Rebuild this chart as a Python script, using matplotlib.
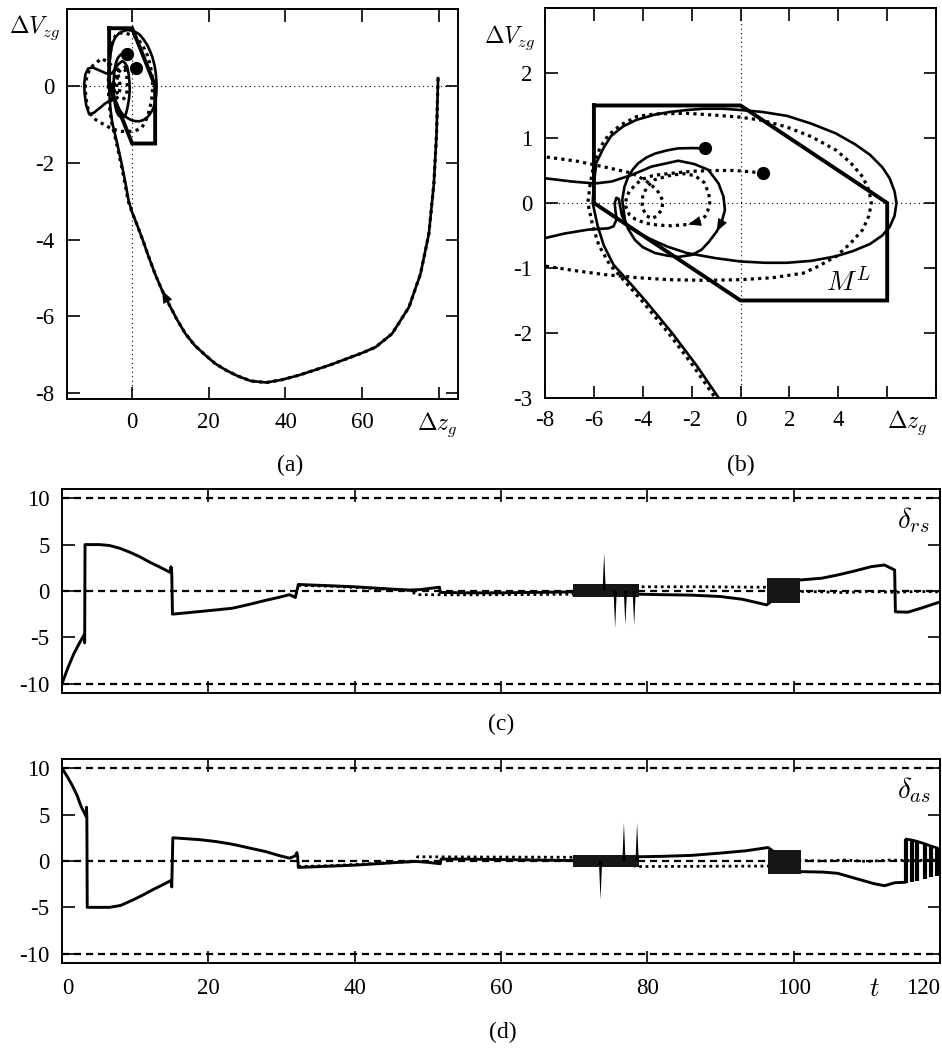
import numpy as np
import matplotlib
matplotlib.use("Agg")
import matplotlib.pyplot as plt

plt.rcParams['font.family'] = ['Liberation Serif', 'DejaVu Serif']
plt.rcParams['mathtext.fontset'] = 'cm'
plt.rcParams['axes.unicode_minus'] = False

# ---------------- phase plane data, panels (a) and (b) ----------------
# common piece of both runs: from dz=80 down through the dip, back to the origin
APPROACH_Z = [79.8, 79.6, 79.4, 78.7, 77.4, 75.2, 72.2, 67.8, 63.5, 60.0,
              56.0, 52.0, 47.5, 43.5, 39.0, 35.0, 31.0, 27.5, 24.5, 21.7,
              19.0, 16.3, 13.9, 11.8, 9.7, 7.8, 6.0, 4.35, 2.8, 1.3,
              -0.05]
APPROACH_V = [0.2, -0.5, -1.26, -2.55, -3.85, -4.9, -5.76, -6.45, -6.8, -6.95,
              -7.1, -7.25, -7.4, -7.53, -7.65, -7.72, -7.68, -7.55, -7.4, -7.23,
              -7.0, -6.75, -6.45, -6.1, -5.7, -5.32, -4.9, -4.46, -4.02, -3.62,
              -3.28]

# solid run, rest of the path (ends at the filled dot)
SOLID_Z = [-0.91, -1.8, -2.8, -3.9, -4.6, -5.2, -5.6, -5.85, -6.05, -6.0,
           -5.9, -5.6, -5.3, -4.8, -4.25, -3.5, -2.9, -2.2, -1.5, -0.7,
           0.0, 0.9, 1.9, 2.9, 3.9, 4.7, 5.3, 5.8, 6.1, 6.3,
           6.38, 6.3, 6.1, 5.8, 5.3, 4.6, 3.9, 2.9, 1.9, 1.0,
           0.0, -1.0, -2.2, -3.0, -3.6, -4.2, -4.66, -4.85, -4.93, -4.98,
           -5.08, -5.15, -5.12, -5.07, -5.2, -5.41, -6.23, -7.2, -8.0, -9.0,
           -10.0, -11.2, -12.0, -12.4, -12.5, -12.2, -11.5, -10.3, -9.2, -8.0,
           -6.9, -5.96, -5.28, -4.46, -3.64, -2.55, -1.9, -1.32, -0.9, -0.7,
           -0.64, -0.78, -0.98, -1.3, -1.6, -2.0, -2.55, -3.0, -3.5, -4.0,
           -4.32, -4.6, -4.73, -4.84, -4.75, -4.6, -4.4, -4.19, -3.85, -3.5,
           -3.0, -2.55, -2.0, -1.46]
SOLID_V = [-2.99, -2.5, -2.0, -1.5, -1.2, -0.95, -0.65, -0.35, 0.0, 0.3,
           0.62, 0.85, 1.03, 1.18, 1.28, 1.36, 1.40, 1.43, 1.45, 1.45,
           1.43, 1.40, 1.34, 1.22, 1.07, 0.90, 0.74, 0.55, 0.38, 0.18,
           0.0, -0.2, -0.37, -0.5, -0.63, -0.74, -0.82, -0.89, -0.92, -0.92,
           -0.9, -0.85, -0.77, -0.67, -0.57, -0.46, -0.34, -0.2, -0.05, 0.06,
           0.08, 0.0, -0.12, -0.25, -0.36, -0.39, -0.41, -0.47, -0.54, -0.62,
           -0.7, -0.74, -0.5, -0.2, 0.05, 0.3, 0.45, 0.48, 0.43, 0.38,
           0.33, 0.30, 0.33, 0.43, 0.56, 0.65, 0.6, 0.51, 0.3, 0.1,
           -0.11, -0.3, -0.44, -0.6, -0.72, -0.8, -0.83, -0.81, -0.77, -0.68,
           -0.57, -0.4, -0.26, 0.05, 0.25, 0.4, 0.52, 0.61, 0.7, 0.76,
           0.81, 0.84, 0.845, 0.84]

# dotted run, rest of the path
DOTTED_Z = [-1.05, -1.95, -2.95, -4.05, -4.75, -5.35, -5.8, -6.05, -6.25, -6.15,
            -6.0, -5.75, -5.4, -4.9, -4.25, -3.5, -2.2, -1.0, 0.0, 0.9,
            1.88, 2.9, 3.92, 4.5, 5.0, 5.25, 5.35, 5.25, 5.0, 4.5,
            3.92, 3.2, 2.56, 1.3, 0.0, -1.5, -2.9, -4.2, -5.6, -6.8,
            -8.0, -9.5, -10.5, -11.5, -12.1, -12.2, -11.9, -11.0, -10.0, -9.0,
            -8.0, -6.64, -5.28, -4.46, -3.9, -3.6, -3.37, -3.2, -3.2, -3.37,
            -3.6, -3.85, -4.03, -4.0, -3.8, -3.5, -2.82, -2.3, -1.87, -1.5,
            -1.3, -1.26, -1.35, -1.46, -1.75, -2.14, -2.82, -3.4, -3.9, -4.3,
            -4.55, -4.7, -4.68, -4.55, -4.3, -4.05, -3.6, -3.23, -2.5, -1.87,
            -1.0, -0.23, 0.4, 0.93]
DOTTED_V = [-2.99, -2.5, -2.0, -1.5, -1.2, -0.95, -0.65, -0.35, 0.0, 0.3,
            0.6, 0.85, 1.05, 1.2, 1.33, 1.37, 1.38, 1.35, 1.32, 1.27,
            1.17, 1.02, 0.81, 0.62, 0.4, 0.2, 0.0, -0.2, -0.41, -0.62,
            -0.82, -0.97, -1.08, -1.15, -1.18, -1.19, -1.18, -1.15, -1.1, -1.04,
            -0.97, -0.88, -0.8, -0.6, -0.3, 0.0, 0.2, 0.45, 0.55, 0.63,
            0.71, 0.64, 0.53, 0.46, 0.35, 0.26, 0.17, 0.05, -0.08, -0.18,
            -0.24, -0.2, -0.06, 0.12, 0.26, 0.36, 0.43, 0.45, 0.42, 0.32,
            0.15, 0.0, -0.13, -0.21, -0.29, -0.33, -0.35, -0.34, -0.31, -0.25,
            -0.18, -0.05, 0.08, 0.18, 0.28, 0.36, 0.42, 0.44, 0.47, 0.49,
            0.5, 0.5, 0.48, 0.46]

# admissible set M^L
ML_Z = [-6, 0, 6, 6, 0, -6, -6]
ML_V = [1.5, 1.5, 0, -1.5, -1.5, 0, 1.5]

# ---------------- control signals, panels (c) and (d) ----------------
RS_T = [0.0, 0.8, 1.6, 2.4, 3.05, 3.1, 3.15, 5.1, 6.5, 7.9,
        9.2, 10.6, 12.0, 13.3, 14.8, 14.9, 15.0, 15.1, 18.8, 21.0,
        23.3, 25.6, 27.9, 29.6, 31.1, 31.9, 32.3, 33.8, 37.0, 40.0,
        43.0, 45.0, 47.5, 49.0, 50.5, 51.6, 51.7, 55.0, 60.0, 65.0,
        69.8, 78.8, 82.0, 86.0, 90.0, 93.0, 96.3, 100.8, 103.8, 106.0,
        108.3, 110.6, 112.4, 113.8, 113.9, 115.6, 117.4, 119.5, 120.0]
RS_V = [-10.0, -8.3, -6.8, -5.6, -4.7, -5.6, 5.0, 5.0, 4.9, 4.6,
        4.2, 3.7, 3.1, 2.6, 2.0, 2.6, 2.0, -2.5, -2.22, -2.05,
        -1.86, -1.45, -1.0, -0.7, -0.4, -0.7, 0.7, 0.65, 0.55, 0.45,
        0.3, 0.2, 0.1, 0.15, 0.3, 0.4, -0.15, -0.2, -0.2, -0.15,
        -0.1, -0.35, -0.4, -0.45, -0.6, -0.9, -1.5, 1.18, 1.37, 1.72,
        2.15, 2.62, 2.8, 2.26, -2.25, -2.29, -1.86, -1.31, -1.2]
RS_DOT_T = [32.3, 37.0, 42.0, 47.5, 48.5, 55.0, 60.0, 65.0, 69.8, 78.8,
            87.0, 96.3, 100.8, 104.0, 107.0, 110.0, 114.0, 117.0, 120.0]
RS_DOT_V = [0.6, 0.5, 0.3, 0.05, -0.4, -0.42, -0.4, -0.38, -0.35, 0.45,
            0.45, 0.4, -0.05, -0.1, -0.18, -0.05, -0.15, -0.05, -0.1]
RS_BAND_T = [69.8, 78.8]
RS_BAND_LO = [-0.65, -0.65]
RS_BAND_HI = [0.75, 0.75]
RS_BLOCK_T = [96.3, 100.8]
RS_BLOCK_LO = [-1.33, -1.33]
RS_BLOCK_HI = [1.38, 1.38]
RS_SPIKE_T = [74.1, 75.6, 77.0, 78.2]
RS_SPIKE_V = [4.1, -4.0, -3.7, -3.7]

AS_T = [0.0, 0.8, 1.5, 2.1, 2.6, 3.3, 3.35, 3.4, 3.45, 5.0,
        6.5, 8.0, 9.7, 11.0, 12.4, 13.7, 14.9, 15.0, 15.15, 18.8,
        21.0, 23.3, 25.6, 27.9, 29.6, 31.1, 31.9, 32.1, 32.2, 32.3,
        33.8, 37.0, 40.0, 43.0, 46.0, 48.4, 50.0, 51.7, 51.8, 55.0,
        60.0, 65.0, 69.8, 78.8, 82.0, 86.0, 90.0, 93.5, 96.5, 101.0,
        104.0, 106.0, 109.2, 111.0, 112.4, 113.8, 115.2]
AS_V = [10.0, 9.0, 8.0, 7.0, 5.9, 4.8, 5.8, 4.6, -5.0, -5.0,
        -5.0, -4.8, -4.2, -3.7, -3.1, -2.6, -2.1, -2.8, 2.5, 2.3,
        2.1, 1.8, 1.4, 1.0, 0.6, 0.3, 0.55, 0.9, 0.5, -0.7,
        -0.65, -0.55, -0.45, -0.3, -0.15, -0.05, -0.15, -0.3, 0.2, 0.2,
        0.15, 0.1, 0.05, 0.45, 0.5, 0.6, 0.85, 1.1, 1.45, -1.15,
        -1.2, -1.33, -2.05, -2.45, -2.67, -2.35, -2.3]
AS_DOT_T = [32.3, 37.0, 42.0, 48.4, 48.6, 60.0, 69.8, 78.8, 96.5, 101.0,
            104.0, 107.0, 110.0, 113.0, 116.0, 120.0]
AS_DOT_V = [-0.6, -0.5, -0.3, -0.05, 0.45, 0.42, 0.4, -0.6, -0.55, 0.05,
            0.0, 0.1, -0.05, 0.1, 0.05, 0.1]
AS_BAND_T = [69.8, 78.8]
AS_BAND_LO = [-0.7, -0.7]
AS_BAND_HI = [0.65, 0.65]
AS_BLOCK_T = [96.5, 101.0]
AS_BLOCK_LO = [-1.4, -1.4]
AS_BLOCK_HI = [1.2, 1.2]
AS_SPIKE_T = [73.6, 76.8, 78.6]
AS_SPIKE_V = [-4.2, 4.1, 4.1]
AS_BAR_T = [115.4, 116.2, 116.9, 117.9, 118.8, 119.6]
AS_BAR_LO = [-2.35, -2.3, -2.2, -1.9, -1.7, -1.6]
AS_BAR_HI = [2.35, 2.25, 2.1, 1.85, 1.6, 1.4]

T_TICKS = [0, 20, 40, 60, 80, 100, 120]
D_TICKS = [-10, -5, 0, 5, 10]
LIMIT = 10

DOT = (0, (1, 1.3))
DASH = (0, (3.2, 2.2))
TICK_FS = 16.5

fig = plt.figure(figsize=(9.42, 10.49), dpi=100)
ax_a = fig.add_axes([0.0711, 0.6196, 0.4151, 0.3718])
ax_b = fig.add_axes([0.5786, 0.6206, 0.4151, 0.3718])
ax_c = fig.add_axes([0.0658, 0.3394, 0.9321, 0.1945])
ax_d = fig.add_axes([0.0658, 0.0820, 0.9321, 0.1945])


def style(ax, xpad=9):
    ax.tick_params(direction='in', length=9, width=1.2, top=True, right=True,
                   labelsize=TICK_FS, pad=9)
    ax.tick_params(axis='x', pad=xpad)
    for s in ax.spines.values():
        s.set_linewidth(1.4)


def head(ax, z, v, i, ms=10):
    ax.annotate('', xy=(z[i], v[i]), xytext=(z[i - 1], v[i - 1]),
                arrowprops=dict(arrowstyle='-|>,head_length=0.9,head_width=0.35',
                                color='k', lw=0.1, shrinkA=0, shrinkB=0,
                                mutation_scale=ms))


sol_z = APPROACH_Z + SOLID_Z
sol_v = APPROACH_V + SOLID_V
dot_z = APPROACH_Z + DOTTED_Z
dot_v = APPROACH_V + DOTTED_V

for ax in (ax_a, ax_b):
    ax.axhline(0, color='k', lw=0.8, ls=(0, (1, 3)), zorder=1)
    ax.axvline(0, color='k', lw=0.8, ls=(0, (1, 3)), zorder=1)
    ax.plot(ML_Z, ML_V, color='k', lw=2.8, solid_joinstyle='miter', zorder=2)
    ax.plot(dot_z, dot_v, color='k', lw=2.3, ls=DOT, zorder=3)
    ax.plot(sol_z, sol_v, color='k', lw=1.9, zorder=4)
    ax.plot(sol_z[-1], sol_v[-1], 'o', color='k', ms=8.5, zorder=5)
    ax.plot(dot_z[-1], dot_v[-1], 'o', color='k', ms=8.5, zorder=5)
    style(ax, xpad=9)

# panel (a)
ax_a.set_xlim(-17, 85)
ax_a.set_ylim(-8.15, 2.0)
ax_a.set_xticks([0, 20, 40, 60, 80])
ax_a.set_xticklabels(['0', '20', '40', '60', ''])
ax_a.set_yticks([-8, -6, -4, -2, 0])
ax_a.set_yticklabels(['-8', '-6', '-4', '-2', '0'])
head(ax_a, sol_z, sol_v, 25)
ax_a.text(0.946, -0.067, r'$\Delta z_g$', transform=ax_a.transAxes,
          ha='center', va='center', fontsize=17)
ax_a.text(-0.084, 0.951, r'$\Delta V_{zg}$', transform=ax_a.transAxes,
          ha='center', va='center', fontsize=17)

# panel (b)
ax_b.set_xlim(-8, 8)
ax_b.set_ylim(-3, 3)
ax_b.set_xticks([-8, -6, -4, -2, 0, 2, 4, 6, 8])
ax_b.set_xticklabels(['-8', '-6', '-4', '-2', '0', '2', '4', '', ''])
ax_b.set_yticks([-3, -2, -1, 0, 1, 2, 3])
ax_b.set_yticklabels(['-3', '-2', '-1', '0', '1', '2', ''])
head(ax_b, sol_z, sol_v, len(APPROACH_Z) + 82)
head(ax_b, dot_z, dot_v, len(APPROACH_Z) + 75)
ax_b.text(4.4, -1.23, r'$M^L$', ha='center', va='center', fontsize=20)
ax_b.text(0.926, -0.064, r'$\Delta z_g$', transform=ax_b.transAxes,
          ha='center', va='center', fontsize=17)
ax_b.text(-0.09, 0.923, r'$\Delta V_{zg}$', transform=ax_b.transAxes,
          ha='center', va='center', fontsize=17)


def signal(ax, t, v, dt, dv, band, block, spikes):
    for y in (-LIMIT, 0, LIMIT):
        ax.axhline(y, color='k', lw=1.6, ls=DASH, zorder=1)
    ax.plot(dt, dv, color='k', lw=2.0, ls=DOT, zorder=2)
    ax.plot(t, v, color='k', lw=2.1, zorder=3)
    for bt, blo, bhi in (band, block):
        ax.fill_between(bt, blo, bhi, color='#161616', lw=0, zorder=4)
    for st, sv in zip(*spikes):
        ax.fill([st - 0.22, st, st + 0.22], [0, sv, 0], color='k', lw=0, zorder=4)
    ax.set_xlim(0, 120)
    ax.set_ylim(-11, 11)
    ax.set_xticks(T_TICKS)
    ax.set_yticks(D_TICKS)
    ax.set_yticklabels([str(d) for d in D_TICKS])


signal(ax_c, RS_T, RS_V, RS_DOT_T, RS_DOT_V,
       (RS_BAND_T, RS_BAND_LO, RS_BAND_HI),
       (RS_BLOCK_T, RS_BLOCK_LO, RS_BLOCK_HI),
       (RS_SPIKE_T, RS_SPIKE_V))
signal(ax_d, AS_T, AS_V, AS_DOT_T, AS_DOT_V,
       (AS_BAND_T, AS_BAND_LO, AS_BAND_HI),
       (AS_BLOCK_T, AS_BLOCK_LO, AS_BLOCK_HI),
       (AS_SPIKE_T, AS_SPIKE_V))
ax_d.vlines(AS_BAR_T, AS_BAR_LO, AS_BAR_HI, color='k', lw=3.0, zorder=4)
ax_d.plot(AS_BAR_T, AS_BAR_HI, color='k', lw=2.0, zorder=4)

style(ax_c)
style(ax_d, xpad=11)
ax_c.set_xticklabels([])
labels = ax_d.set_xticklabels([str(t) for t in T_TICKS])
labels[0].set_ha('left')
labels[-1].set_ha('right')

ax_c.text(0.970, 0.848, r'$\delta_{rs}$', transform=ax_c.transAxes,
          ha='center', va='center', fontsize=21)
ax_d.text(0.971, 0.848, r'$\delta_{as}$', transform=ax_d.transAxes,
          ha='center', va='center', fontsize=21)
ax_d.text(0.925, -0.132, r'$t$', transform=ax_d.transAxes,
          ha='center', va='center', fontsize=19)

for x, y, s in ((0.3079, 0.5567, '(a)'), (0.7866, 0.5567, '(b)'),
                (0.5318, 0.3098, '(c)'), (0.534, 0.0153, '(d)')):
    fig.text(x, y, s, ha='center', va='center', fontsize=17)

fig.savefig('out.png', dpi=100)
